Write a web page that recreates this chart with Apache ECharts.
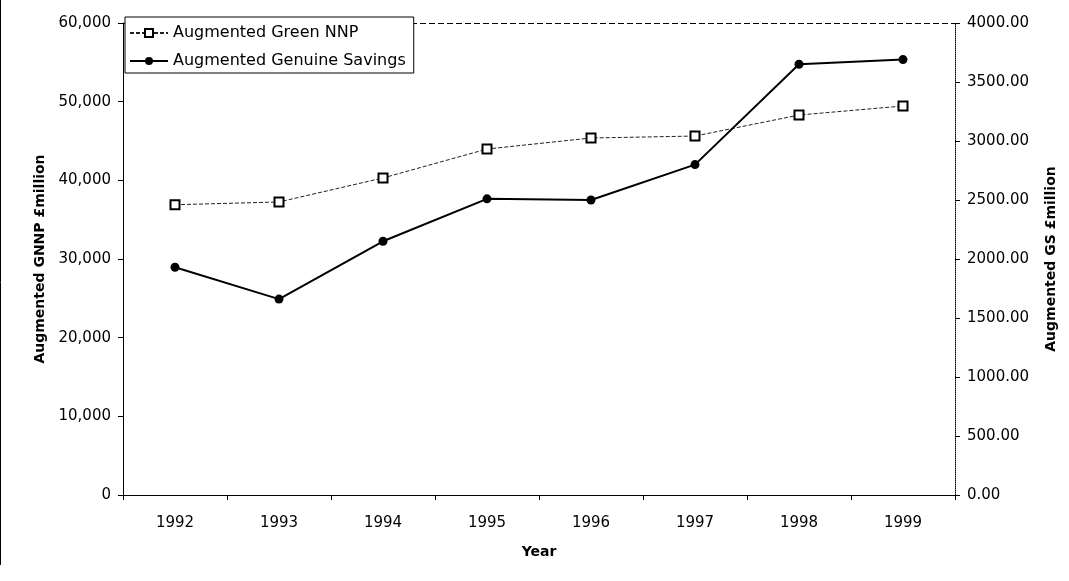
<!DOCTYPE html>
<html><head><meta charset="utf-8">
<script src="https://cdn.jsdelivr.net/npm/echarts@6/dist/echarts.min.js"></script>
<style>html,body{margin:0;padding:0;background:#fff}#c{width:1069px;height:581px}</style>
</head><body><div id="c"></div>
<script>
const years = ['1992','1993','1994','1995','1996','1997','1998','1999'];
const greenNNP = [36900, 37250, 40300, 43980, 45380, 45630, 48300, 49450];
const genuineSavings = [1930, 1660, 2150, 2510, 2500, 2800, 3650, 3690];
const leftTicks = {min: 0, max: 60000, interval: 10000};
const rightTicks = {min: 0, max: 4000, interval: 500};

const chart = echarts.init(document.getElementById('c'));
const font = 'DejaVu Sans, sans-serif';
const nameStyle = {fontFamily: font, fontSize: 14, fontWeight: 'bold', color: '#000'};
chart.setOption({
  animation: false,
  backgroundColor: '#fff',
  textStyle: {fontFamily: font, color: '#000'},
  grid: {left: 123, right: 114, top: 23, bottom: 86},
  legend: {
    orient: 'vertical', left: 125, top: 17,
    backgroundColor: '#fff', borderColor: '#000', borderWidth: 1,
    padding: [8, 8, 4, 4], itemGap: 12, itemWidth: 38, itemHeight: 10,
    textStyle: {fontFamily: font, fontSize: 16, color: '#000'},
    data: ['Augmented Green NNP', 'Augmented Genuine Savings']
  },
  xAxis: {
    type: 'category', data: years,
    name: 'Year', nameLocation: 'middle', nameGap: 50,
    nameTextStyle: nameStyle,
    axisLine: {lineStyle: {color: '#000', width: 1}},
    axisTick: {show: true, length: 5, lineStyle: {color: '#000'}},
    axisLabel: {fontFamily: font, fontSize: 15, color: '#000', margin: 21},
    splitLine: {show: false}
  },
  yAxis: [{
    type: 'value', min: leftTicks.min, max: leftTicks.max, interval: leftTicks.interval,
    name: 'Augmented GNNP £million', nameLocation: 'middle', nameGap: 73,
    nameTextStyle: nameStyle,
    axisLine: {show: true, lineStyle: {color: '#000', width: 1}},
    axisTick: {show: true, length: 5, lineStyle: {color: '#000'}},
    axisLabel: {fontFamily: font, fontSize: 15, color: '#000', margin: 12,
      formatter: v => v.toLocaleString('en-US')},
    splitLine: {show: false}
  }, {
    type: 'value', position: 'right', min: rightTicks.min, max: rightTicks.max, interval: rightTicks.interval,
    name: 'Augmented GS £million', nameLocation: 'middle', nameGap: 89, nameRotate: 90,
    nameTextStyle: nameStyle,
    axisLine: {show: true, lineStyle: {color: '#000', width: 1, type: 'dotted'}},
    axisTick: {show: true, length: 5, lineStyle: {color: '#000'}},
    axisLabel: {fontFamily: font, fontSize: 15, color: '#000', margin: 12,
      formatter: v => v.toFixed(2)},
    splitLine: {show: false}
  }],
  series: [{
    name: 'Augmented Green NNP', type: 'line', yAxisIndex: 0, data: greenNNP,
    symbol: 'emptyRect', symbolSize: 9,
    lineStyle: {color: '#222', width: 1, type: [4, 2]},
    itemStyle: {color: '#000', borderColor: '#000', borderWidth: 2}
  }, {
    name: 'Augmented Genuine Savings', type: 'line', yAxisIndex: 1, data: genuineSavings,
    symbol: 'circle', symbolSize: 9,
    lineStyle: {color: '#000', width: 2},
    itemStyle: {color: '#000'}
  }],
  graphic: [{
    type: 'line', shape: {x1: 0.5, y1: 0, x2: 0.5, y2: 565}, style: {stroke: '#000', lineWidth: 1}
  }, {
    type: 'line', shape: {x1: 123, y1: 23.5, x2: 955, y2: 23.5}, style: {stroke: '#000', lineWidth: 1, lineDash: [6, 3]}, z: -1
  }]
});
</script></body></html>
